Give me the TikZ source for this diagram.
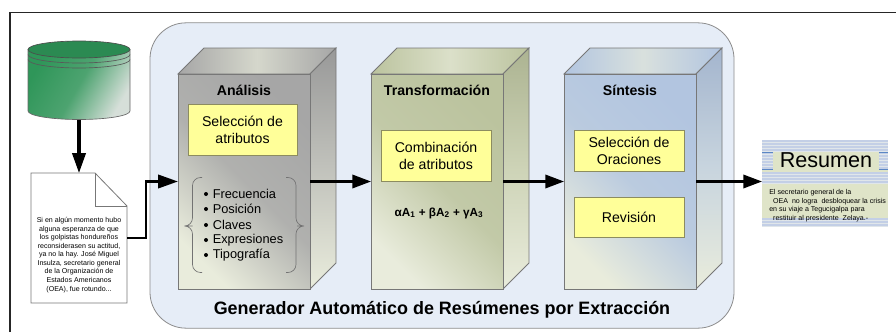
\documentclass[tikz,border=0pt]{standalone}
\usepackage{fontspec}
\setmainfont{Liberation Sans}
\usetikzlibrary{arrows.meta}
\definecolor{panelfill}{HTML}{E6EDF7}
\definecolor{edgegray}{HTML}{777777}
\definecolor{noteyellow}{HTML}{FFFF99}
\definecolor{noteedge}{HTML}{8C8C60}
\definecolor{paleend}{HTML}{E9ECDC}
\definecolor{grayA}{HTML}{A6A6A6}
\definecolor{olive}{HTML}{BBC39E}
\definecolor{bluish}{HTML}{B2C5E0}
\definecolor{stripeblue}{HTML}{C3CFE6}
\definecolor{stripepale}{HTML}{E0E6EA}
\definecolor{resgreen}{HTML}{DFE4C8}
\definecolor{rule}{HTML}{5B86C4}
\definecolor{dbgreen}{HTML}{2F9659}
\definecolor{dbpale}{HTML}{D6DFD9}
\newcommand{\sz}[1]{\fontsize{#1}{#1}\selectfont}
\tikzset{
  x=0.75pt,y=-0.75pt,
  flow/.style={line width=1.8pt,-{Triangle[length=14pt,width=10pt]}},
  heavyflow/.style={line width=2.3pt,-{Triangle[length=15pt,width=10pt]}},
  facebox/.style={draw=edgegray,line width=0.6pt,minimum width=99pt,minimum height=161.25pt,inner sep=0pt,outer sep=0pt},
  faceshade/.style={shading=axis,left color=paleend,right color=#1,middle color=#1!85!paleend,shading angle=135},
  edgeline/.style={draw=edgegray,line width=0.6pt},
  notebox/.style={draw=noteedge,line width=0.6pt,fill=noteyellow,inner sep=0pt,outer sep=0pt,align=center,font=\sz{10.6}},
  boxtitle/.style={font=\bfseries\sz{10.6},inner sep=0pt},
  listitem/.style={font=\sz{9.6},inner sep=0pt,anchor=west},
  bulletdot/.style={circle,fill=black,inner sep=0pt,minimum size=3pt},
  bracepath/.style={draw=black!55,line width=0.5pt,rounded corners=6pt},
  smalltext/.style={align=center,inner sep=0pt,font=\fontsize{5.3}{6.4}\selectfont},
}
% #1 left x of the front face, #2 colour, #3 node name
\newcommand{\solidbox}[3]{%
  \pgfmathsetmacro{\xl}{#1}\pgfmathsetmacro{\xr}{#1+132}%
  \shade[left color=#2,right color=#2,middle color=paleend!70!#2,shading angle=90,edgeline]
    (\xl,74) -- (\xl+26,48) -- (\xr+26,48) -- (\xr,74) -- cycle;
  \shade[top color=#2!92!black,bottom color=paleend,middle color=#2!60!paleend,edgeline]
    (\xr,74) -- (\xr+26,48) -- (\xr+26,263) -- (\xr,289) -- cycle;
  \node[facebox,faceshade=#2] at (\xl+66,181.5) (#3) {};
}
\begin{document}
\begin{tikzpicture}
\useasboundingbox (0,0) rectangle (896,332);
\fill[white] (0,0) rectangle (896,332);
% frame
\draw[line width=0.9pt,black!85] (10,332) -- (10,12.5) -- (896,12.5);
% panel
\node[draw=black!45,fill=panelfill,line width=0.6pt,rounded corners=27pt,minimum width=438pt,minimum height=229pt,inner sep=0pt] (panel) at (442,175.5) {};
% boxes
\solidbox{178}{grayA}{boxA}
\solidbox{371}{olive}{boxB}
\solidbox{564}{bluish}{boxC}
% titles
\node[boxtitle] (tA) at (244,90) {Análisis};
\node[boxtitle] (tB) at (437,90) {Transformación};
\node[boxtitle] (tC) at (630,90) {Síntesis};
% yellow notes
\node[notebox,minimum width=81.75pt,minimum height=38.25pt] (nA) at (242.5,129.5) {Selección de\\[2pt]atributos};
\node[notebox,minimum width=82.5pt,minimum height=38.25pt] (nB) at (436,155.5) {Combinación\\[2pt]de atributos};
\node[notebox,minimum width=82.5pt,minimum height=30.75pt] (nC) at (629,150.5) {Selección de\\[2pt]Oraciones};
\node[notebox,minimum width=82.5pt,minimum height=30pt] (nD) at (629,217) {Revisión};
% list
\foreach \yy/\tx/\nm in {194/Frecuencia/la,209/Posición/lb,225/Claves/lc,240/Expresiones/ld,255/Tipografía/le}{
  \node[bulletdot] (d\nm) at (206,\yy) {};
  \node[listitem] (\nm) at (212.5,\yy) {\tx};
}
% braces
\draw[bracepath] (202,177.5) -- (192.5,177.5) -- (192.5,226) -- (184.5,226) -- (192.5,226) -- (192.5,272.5) -- (202,272.5);
\draw[bracepath] (286,177.5) -- (296,177.5) -- (296,226) -- (305,226) -- (296,226) -- (296,272.5) -- (286,272.5);
% formula
\node[inner sep=0pt,font=\bfseries\sz{8.8}] (formula) at (439,213) {αA\textsubscript{1} + βA\textsubscript{2} + γA\textsubscript{3}};
% title
\node[inner sep=0pt,font=\bfseries\sz{13.45}] (bigtitle) at (442,310) {Generador Automático de Resúmenes por Extracción};
% database
\node[minimum width=76.5pt,minimum height=58.5pt,inner sep=0pt,outer sep=0pt] (db) at (79,80.5) {};
\shade[left color=dbgreen,right color=dbpale,middle color=dbgreen!82!dbpale,shading angle=60,draw=black!60,line width=0.5pt]
  (28,49.5) -- (28,111) arc[start angle=180,end angle=360,x radius=51,y radius=-8.5] -- (130,49.5) -- cycle;
\draw[draw=black!70,fill=dbgreen!92!black,line width=0.5pt] (79,49.5) ellipse[x radius=51,y radius=8.5];
\draw[black!65,line width=0.5pt] (28,54.5) arc[start angle=180,end angle=360,x radius=51,y radius=-8.5];
\draw[black!65,line width=0.5pt] (28,59.5) arc[start angle=180,end angle=360,x radius=51,y radius=-8.5];
% document
\node[minimum width=72pt,minimum height=97.5pt,inner sep=0pt,outer sep=0pt] (doc) at (79,238) {};
\draw[edgegray,fill=white,line width=0.6pt] (31,173) -- (95,173) -- (127,206) -- (127,303) -- (31,303) -- cycle;
\draw[edgegray,line width=0.6pt] (95,173) -- (95,206) -- (127,206);
\node[smalltext] (doctext) at (79,255) {Si en algún momento hubo\\alguna esperanza de que\\los golpistas hondureños\\reconsiderasen su actitud,\\ya no la hay. José Miguel\\Insulza, secretario general\\de la Organización de\\Estados Americanos\\(OEA), fue rotundo...};
% resumen
\node[fill=resgreen,minimum width=94.5pt,minimum height=65.25pt,inner sep=0pt,outer sep=0pt] (res) at (825,183.5) {};
\foreach \yy in {140,143,146,149,172,175,178,181,218,221,224}{
  \fill[stripeblue] (762,\yy) rectangle (888,\yy+1.6);
  \fill[stripepale] (762,\yy+1.6) rectangle (888,\yy+3);
}
\foreach \yy in {152,155,158,161,164,167}{
  \fill[stripeblue] (762,\yy) rectangle (773,\yy+1.6);
  \fill[stripepale] (762,\yy+1.6) rectangle (773,\yy+3);
  \fill[stripeblue] (879,\yy) rectangle (888,\yy+1.6);
  \fill[stripepale] (879,\yy+1.6) rectangle (888,\yy+3);
}
\draw[rule,line width=0.7pt] (762,152) -- (773,152) (762,169) -- (773,169) (879,152) -- (888,152) (879,169) -- (888,169);
\node[inner sep=0pt,font=\sz{16.2}] (restitle) at (826,160.5) {Resumen};
\node[inner sep=0pt,align=left,anchor=north west,font=\fontsize{5.3}{6.5}\selectfont] (restext) at (769,189) {El secretario general de la\\\ \ OEA \ no logra \ desbloquear la crisis\\en su viaje a Tegucigalpa para\\\ \ restituir al presidente \ Zelaya.-};
% connectors
\draw[heavyflow] (db.south) -- (doc.north);
\coordinate (elbow) at (146,238);
\draw[line width=2.1pt,-{Triangle[length=15pt,width=10pt]}] (doc.east) -- (elbow) |- (boxA.west);
\draw[flow] (boxA.east) -- (boxB.west);
\draw[flow] (boxB.east) -- (boxC.west);
\draw[flow] (boxC.east) -- (res.west |- boxC.east);
\end{tikzpicture}
\end{document}
